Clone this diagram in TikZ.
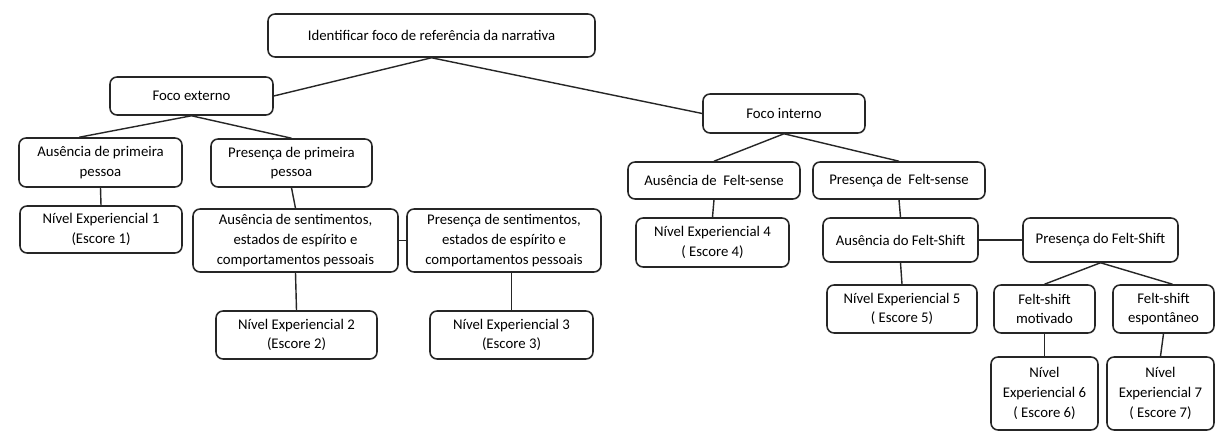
\documentclass[tikz,border=0pt]{standalone}
\usepackage{fontspec}
\setmainfont{Carlito}
\usepackage{tikz}

\begin{document}
\begin{tikzpicture}[
    x=0.025cm,y=-0.025cm,
    box/.style={draw,black!85,line width=1.1pt,rounded corners=5pt,align=center,
      inner sep=2pt,text=black,font=\fontsize{10.5}{14}\selectfont},
    sz/.style 2 args={minimum width=#1*0.025cm,minimum height=#2*0.025cm},
    link/.style={black!85,line width=1pt}
    ]
    \useasboundingbox[fill=white] (0, 0) rectangle (1219, 432);
    \node[box,sz={327}{43}] (root) at (431.5, 35.5) {Identificar foco de referência da narrativa};
    \node[box,sz={163}{38}] (fext) at (191.5, 96) {Foco externo};
    \node[box,sz={162}{39}] (fint) at (784, 113.5) {Foco interno};
    \node[box,sz={163}{49}] (ausp) at (100.5, 162.5) {Ausência de primeira\\pessoa};
    \node[box,sz={161}{48}] (presp) at (291.5, 163) {Presença de primeira\\pessoa};
    \node[box,sz={172}{37}] (ausfs) at (714, 180.5) {Ausência de~ Felt-sense};
    \node[box,sz={172}{37}] (presfs) at (899, 180.5) {Presença de~ Felt-sense};
    \node[box,sz={162}{47}] (niv1) at (101, 229.5) {Nível Experiencial 1\\(Escore 1)};
    \node[box,sz={205}{63}] (aussent) at (295.5, 240.5) {Ausência de sentimentos,\\estados de espírito e\\comportamentos pessoais};
    \node[box,sz={194}{63}] (pressent) at (504, 240.5) {Presença de sentimentos,\\estados de espírito e\\comportamentos pessoais};
    \node[box,sz={153}{49}] (niv4) at (712.5, 242.5) {Nível Experiencial 4\\( Escore 4)};
    \node[box,sz={155}{44}] (aussh) at (900.5, 240) {Ausência do Felt-Shift};
    \node[box,sz={155}{44}] (pressh) at (1100.5, 240) {Presença do Felt-Shift};
    \node[box,sz={161}{48}] (niv2) at (296.5, 335) {Nível Experiencial 2\\(Escore 2)};
    \node[box,sz={163}{48}] (niv3) at (511.5, 335) {Nível Experiencial 3\\(Escore 3)};
    \node[box,sz={150}{48}] (niv5) at (902, 309) {Nível Experiencial 5\\( Escore 5)};
    \node[box,sz={101}{48}] (motiv) at (1044.5, 309) {Felt-shift\\motivado};
    \node[box,sz={101}{48}] (espont) at (1163.5, 309) {Felt-shift\\espontâneo};
    \node[box,sz={107}{73}] (niv6) at (1044.5, 393.5) {Nível\\Experiencial 6\\( Escore 6)};
    \node[box,sz={107}{73}] (niv7) at (1160.5, 393.5) {Nível\\Experiencial 7\\( Escore 7)};
    \draw[link] (root.south) -- (fext.east);
    \draw[link] (root.south) -- (fint.west);
    \draw[link] (fext.south) -- (ausp.130);
    \draw[link] (fext.south) -- (presp.north);
    \draw[link] (ausp.south) -- (niv1.north);
    \draw[link] (presp.south) -- (aussent.north);
    \draw[link] (aussent.east) -- (pressent.west);
    \draw[link] (aussent.south) -- (niv2.north);
    \draw[link] (niv3.north) -- (niv3.north |- pressent.south);
    \draw[link] (fint.south) -- (ausfs.north);
    \draw[link] (fint.south) -- (presfs.north);
    \draw[link] (ausfs.south) -- (niv4.north);
    \draw[link] (presfs.south) -- (aussh.north);
    \draw[link] (aussh.east) -- (pressh.west);
    \draw[link] (aussh.south) -- (niv5.north);
    \draw[link] (pressh.south) -- (motiv.north);
    \draw[link] (pressh.south) -- (espont.70);
    \draw[link] (motiv.south) -- (niv6.north);
    \draw[link] (espont.south) -- (niv7.north);
  \end{tikzpicture}
\end{document}
